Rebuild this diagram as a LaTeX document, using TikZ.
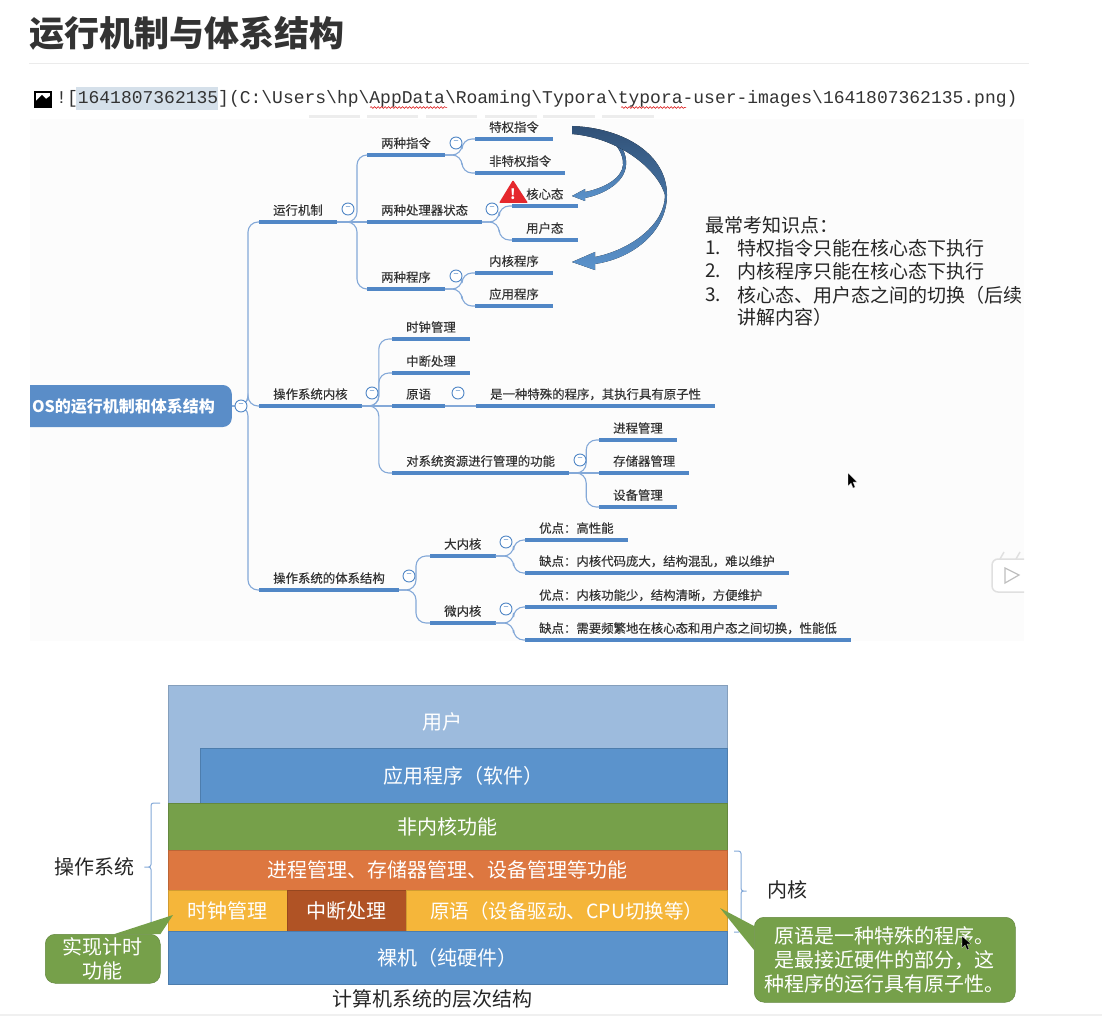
\documentclass[tikz,border=0pt]{standalone}
\usepackage{fontspec}
\setmainfont{Noto Sans CJK SC}
\newfontfamily\codefont{Liberation Mono}
\newfontfamily\topicfont[FakeBold=0.25]{Noto Sans CJK SC}
\usetikzlibrary{arrows.meta,positioning,decorations.pathmorphing}
\definecolor{mmblue}{HTML}{5187C6}
\definecolor{mmline}{HTML}{84A9D8}
\definecolor{rootblue}{HTML}{5A8DC8}
\definecolor{layerblue}{HTML}{5B93CC}
\definecolor{userblue}{HTML}{9DBBDD}
\definecolor{layergreen}{HTML}{76A04A}
\definecolor{layerorange}{HTML}{DD7740}
\definecolor{layeryellow}{HTML}{F5B63A}
\definecolor{layerbrown}{HTML}{B05325}
\definecolor{inktext}{HTML}{333333}
\definecolor{markblue}{HTML}{D5E0EA}
\definecolor{warnred}{HTML}{E5282D}
\tikzset{
  topic/.style={anchor=south west, inner xsep=14pt, inner ysep=5.5pt, text height=12pt, text depth=1.5pt,
    font=\fontsize{12.4}{14}\topicfont, text=inktext,
    append after command={(\tikzlastnode.south west) edge[uline] (\tikzlastnode.south east)}},
  uline/.style={draw=mmblue, line width=3.4pt},
  branch/.style={draw=mmline, line width=1.1pt, rounded corners=10pt},
  foldm/.style={circle, draw=mmblue, fill=white, line width=0.9pt, minimum size=12pt, inner sep=0pt,
    font=\fontsize{9}{9}\selectfont, text=mmblue},
  layer/.style={anchor=north west, draw=#1!85!black, fill=#1, line width=0.5pt, text=white, inner sep=0pt,
    font=\fontsize{20}{24}\selectfont},
  note/.style={anchor=west, inner sep=0pt, text=black!85, font=\fontsize{19}{22}\selectfont},
  plainlabel/.style={inner sep=0pt, text=black!85, font=\fontsize{20}{24}\selectfont},
  calloutbox/.style={fill=layergreen, draw=layergreen!85!black, line width=0.5pt, rounded corners=10pt,
    text=white, align=center, inner sep=0pt, font=\fontsize{20}{24}\selectfont},
  blockarrow/.style={top color=#1, bottom color=layerblue, draw=none},
  layerbrace/.style={draw=mmline, line width=1pt, rounded corners=2.5pt},
  cursorshape/.style={fill=black, draw=white, line width=0.2pt},
}
\begin{document}
\begin{tikzpicture}[x=1pt,y=-1pt]
\useasboundingbox (0,0) rectangle (1102,1016);
\fill[white] (0,0) rectangle (1102,1016);

% page heading
\node[anchor=west, inner sep=0pt, text=inktext, font=\fontsize{35}{40}\selectfont\bfseries] (pagetitle) at (29,33) {运行机制与体系结构};
\fill[black!8] (29,63.5) rectangle (1029,64.5);

% broken image line
\fill[black] (34,91) rectangle (52,108);
\fill[white] (36,93) rectangle (50,101);
\fill[black] (36,101) -- (42,95) -- (46,99) -- (50,96) -- (50,103) -- (36,103) -- cycle;
\fill[white] (38,94) rectangle (40,96);
\fill[markblue] (76,87) rectangle (218,110);
\node[anchor=west, inner sep=0pt, text=inktext, font=\fontsize{18}{20}\codefont] (imgline) at (56,98.5)
  {![1641807362135](C:\textbackslash Users\textbackslash hp\textbackslash AppData\textbackslash Roaming\textbackslash Typora\textbackslash typora-user-images\textbackslash 1641807362135.png)};
\draw[red!85!black, line width=0.5pt, decorate, decoration={snake, amplitude=0.9pt, segment length=3.5pt}] (370,107.5) -- (447,107.5);
\draw[red!85!black, line width=0.5pt, decorate, decoration={snake, amplitude=0.9pt, segment length=3.5pt}] (621,107.5) -- (686,107.5);

% screenshot background
\fill[black!1] (30,119) rectangle (1024,641);
\foreach \xa/\xb in {309/360,367/418,426/477,485/537,543/595,602/654}
  \fill[black!7] (\xa,115) rectangle (\xb,118);

% mind map topics
\foreach \nm/\xx/\yy/\txt in {
  yunxing/259/222/运行机制, neihe/259/406/操作系统内核, tixi/259/590/操作系统的体系结构,
  liangzl/367/155/两种指令, liangcl/367/222/两种处理器状态, liangcx/367/289/两种程序,
  tequan/475/139/特权指令, feitq/475/173/非特权指令, hexin/512/206/核心态, yonghu/512/240/用户态,
  nhcx/475/273/内核程序, yycx/475/306/应用程序,
  shizhong/392/339/时钟管理, zhongduan/392/373/中断处理, yuanyu/392/406/原语,
  yuanyudef/476/406/是一种特殊的程序，其执行具有原子性, ziyuan/392/473/对系统资源进行管理的功能,
  jincheng/599/440/进程管理, cunchu/599/473/存储器管理, shebei/599/507/设备管理,
  danei/430/556/大内核, weinei/430/623/微内核,
  dayou/525/540/优点：高性能, daque/525/573/缺点：内核代码庞大，结构混乱，难以维护,
  weiyou/525/607/优点：内核功能少，结构清晰，方便维护, weique/525/640/缺点：需要频繁地在核心态和用户态之间切换，性能低}
  \node[topic] (\nm) at (\xx,\yy) {\txt};

% root, its left side is cut by the screenshot edge
\begin{scope}
  \clip (30,370) rectangle (260,440);
  \node[anchor=east, fill=rootblue, rounded corners=9pt, text=white, minimum height=42pt, inner xsep=17pt, inner ysep=0pt,
    font=\fontsize{16}{18}\selectfont\bfseries] (osroot) at (232,406) {OS的运行机制和体系结构};
\end{scope}

% branches
\foreach \pa/\dx/\ch in {
  osroot.east/16/yunxing, osroot.east/16/neihe, osroot.east/16/tixi}
  \draw[branch] (\pa) -- ++(\dx,0) |- (\ch.south west);
\foreach \pa/\dx/\ch in {
  yunxing/20/liangzl, yunxing/20/liangcx, liangzl/17/tequan, liangzl/17/feitq,
  liangcl/17/hexin, liangcl/17/yonghu, liangcx/17/nhcx, liangcx/17/yycx,
  neihe/17/shizhong, neihe/17/zhongduan, neihe/17/ziyuan,
  ziyuan/17/jincheng, ziyuan/17/shebei, tixi/17/danei, tixi/17/weinei,
  danei/18/dayou, danei/18/daque, weinei/18/weiyou, weinei/18/weique}
  \draw[branch] (\pa.south east) -- ++(\dx,0) |- (\ch.south west);
\foreach \pa/\ch in {yunxing/liangcl, neihe/yuanyu, yuanyu/yuanyudef, ziyuan/cunchu}
  \draw[branch] (\pa.south east) -- (\ch.south west);

% fold marks
\foreach \nm/\xx/\yy in {
  fold0/241/406, fold1/348/209, fold2/456/143, fold3/492/209, fold4/456/276,
  fold5/372/393, fold6/458/393, fold7/580/460, fold8/409/576, fold9/506/542, fold10/506/609}
  \node[foldm] (\nm) at (\xx,\yy) {−};

% warning sign
\fill[warnred, rounded corners=1pt] (513,180) -- (528,203) -- (499,203) -- cycle;
\node[inner sep=0pt, text=white, font=\fontsize{14}{14}\selectfont\bfseries] (warnmark) at (513,194) {!};

% curved block arrows
\fill[blockarrow=mmblue!70!black] (612,135) .. controls (622,145) and (627,155) .. (626,165)
  .. controls (625,182) and (605,194) .. (585,198) -- (585,201) -- (572,196) -- (585,189) -- (585,192)
  .. controls (605,188) and (622,178) .. (623,165) .. controls (624,155) and (616,142) .. (605,135) -- cycle;
\fill[blockarrow=mmblue!60!black] (572,126) .. controls (625,128) and (667,155) .. (667,195)
  .. controls (667,230) and (635,258) .. (595,264) -- (595,270) -- (572,262) -- (595,252) -- (595,257)
  .. controls (630,250) and (665,225) .. (665,195) .. controls (658,170) and (620,138) .. (572,134) -- cycle;

% key points
\node[note] (kp0) at (705,225) {最常考知识点：};
\foreach \nm/\yy/\num/\txt in {kpa/248/1./特权指令只能在核心态下执行, kpb/271/2./内核程序只能在核心态下执行, kpc/295/3./核心态、用户态之间的切换（后续} {
  \node[note] (\nm) at (737,\yy) {\txt};
  \node[note] (\nm num) at (705,\yy) {\num};
}
\node[note] (kpd) at (737,317) {讲解内容）};

% mouse pointer and player badge
\fill[cursorshape] (848,473) -- (848,486) -- (851,483) -- (853,488) -- (855,487) -- (853,482) -- (857,482) -- cycle;
\begin{scope}
  \clip (985,545) rectangle (1024,600);
  \draw[black!12, fill=white, line width=1.5pt, rounded corners=6pt] (992,559) rectangle (1040,592);
  \draw[black!12, line width=1.5pt] (1000,559) -- (1004,552) (1016,559) -- (1020,552);
  \draw[black!25, line width=1.2pt, fill=white] (1005,568) -- (1005,583) -- (1019,575) -- cycle;
\end{scope}

% layer stack
\fill[userblue, draw=userblue!85!black, line width=0.5pt] (168,685) -- (727,685) -- (727,748) -- (200,748) -- (200,803) -- (168,803) -- cycle;
\node[inner sep=0pt, text=white, font=\fontsize{20}{24}\selectfont] (lyonghu) at (442,722) {用户};
\node[layer=layerblue, minimum width=527pt, minimum height=55pt] (lapp) at (200,748) {应用程序（软件）};
\node[layer=layergreen, minimum width=559pt, minimum height=47pt] (lfei) at (168,803) {非内核功能};
\node[layer=layerorange, minimum width=559pt, minimum height=40pt] (ljin) at (168,850) {进程管理、存储器管理、设备管理等功能};
\node[layer=layeryellow, minimum width=119pt, minimum height=41pt] (lshi) at (168,890) {时钟管理};
\node[layer=layerbrown, minimum width=119pt, minimum height=41pt] (lzhong) at (287,890) {中断处理};
\node[layer=layeryellow, minimum width=321pt, minimum height=41pt, font=\fontsize{19.5}{24}\selectfont] (lyuan) at (406,890) {原语（设备驱动、CPU切换等）};
\node[layer=layerblue, minimum width=559pt, minimum height=53pt] (lluo) at (168,931) {裸机（纯硬件）};
\node[plainlabel] (stackcap) at (432,999) {计算机系统的层次结构};

% braces and their labels
\draw[layerbrace] (160,803) -- (151,803) -- (151,867) -- (143,867) -- (151,867) -- (151,932) -- (160,932);
\draw[layerbrace] (734,851) -- (741,851) -- (741,891) -- (748,891) -- (741,891) -- (741,932) -- (734,932);
\node[plainlabel] (oslabel) at (94,867) {操作系统};
\node[plainlabel] (kernellabel) at (787,890) {内核};

% callouts
\node[calloutbox, anchor=north west, minimum width=115pt, minimum height=49pt] (timecall) at (45,934) {实现计时\\功能};
\coordinate (timetip) at (173,915);
\fill[layergreen] (timetip) -- (timecall.north east) -- ([xshift=-46pt]timecall.north east) -- cycle;
\node[calloutbox, anchor=north west, minimum width=261pt, minimum height=85pt] (primcall) at (754,917) {原语是一种特殊的程序。\\是最接近硬件的部分，这\\种程序的运行具有原子性。};
\coordinate (primtip) at (720,908);
\fill[layergreen] (primtip) -- ([yshift=-9pt]primcall.north west) -- ([yshift=-33pt]primcall.north west) -- cycle;
\fill[cursorshape] (962,936) -- (962,948) -- (965,945) -- (967,950) -- (969,949) -- (967,944) -- (971,944) -- cycle;

% bottom strip
\fill[black!6] (0,1014) rectangle (1102,1016);
\end{tikzpicture}
\end{document}
